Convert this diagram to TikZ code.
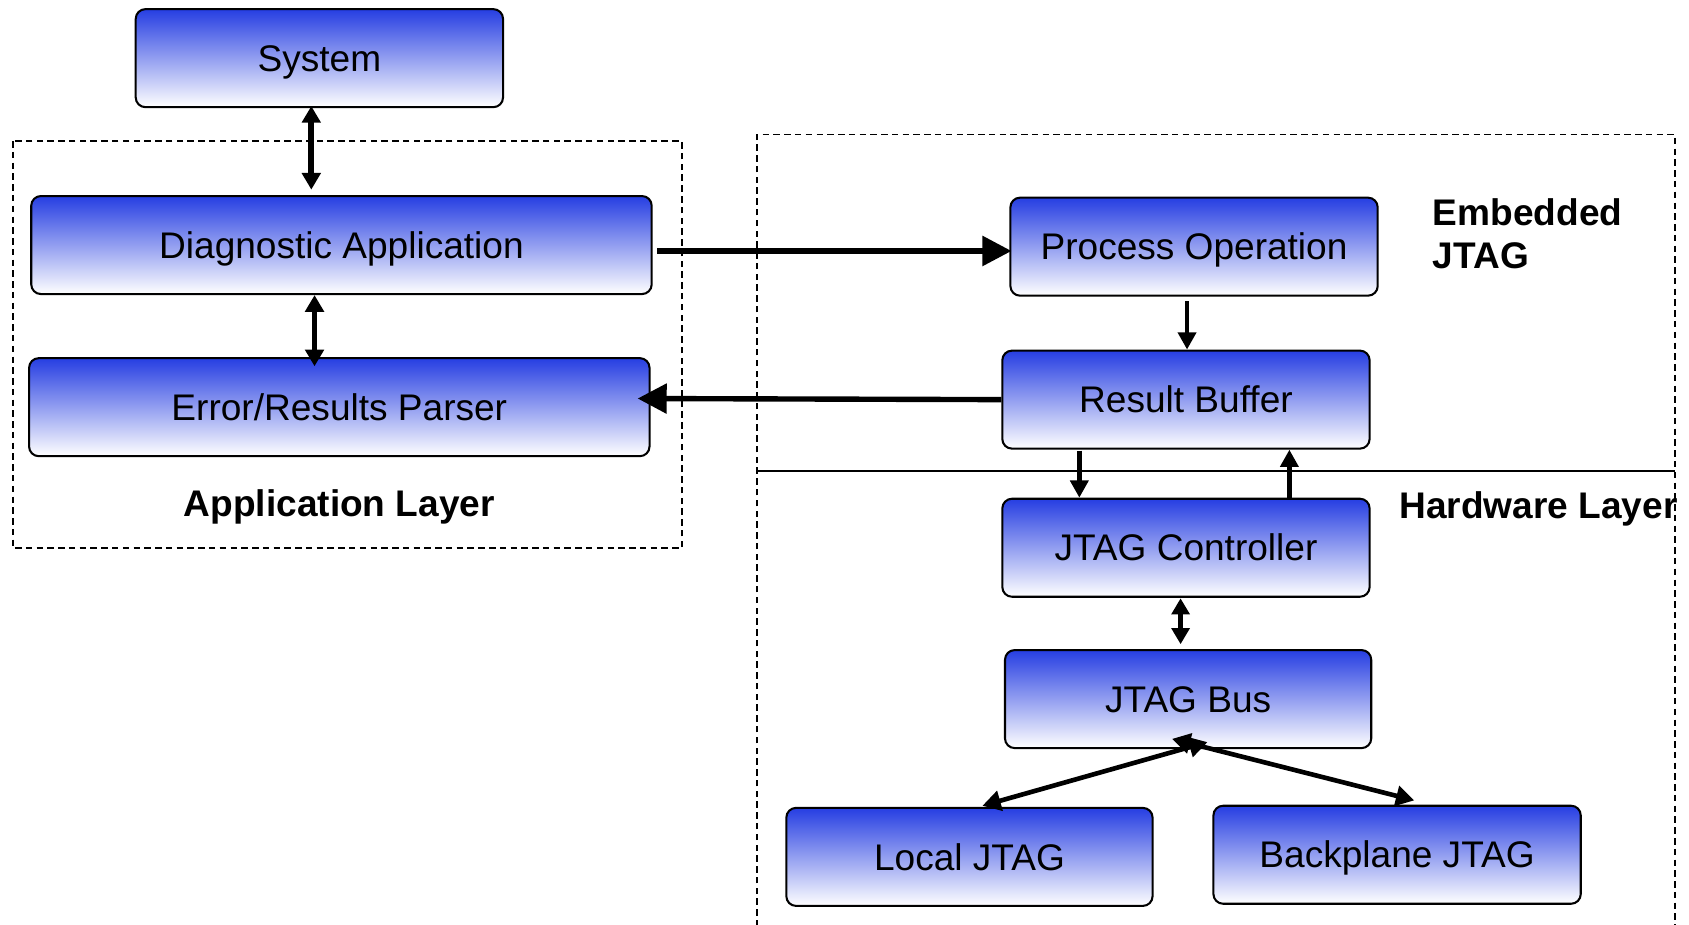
\documentclass[tikz,border=0pt]{standalone}
\usepackage{fontspec}
\setmainfont{Liberation Sans}
\usetikzlibrary{arrows.meta,calc}
\definecolor{topblue}{RGB}{38,62,226}
\begin{document}
\begin{tikzpicture}[x=1pt,y=-1pt,
  box/.style={draw=black, line width=1.9pt, rounded corners=9pt,
    top color=topblue, bottom color=white,
    minimum width=341pt, minimum height=91pt, inner sep=0pt,
    font=\fontsize{34.4}{40}\selectfont, text height=24.6pt, text depth=0pt},
  widebox/.style={box, minimum width=576pt},
  lbl/.style={font=\fontsize{34.4}{40}\selectfont\bfseries, inner sep=0pt},
  dashbox/.style={line width=1.5pt, dash pattern=on 6pt off 4pt},
  thinarr/.style={line width=4.3pt, -{Triangle[length=16pt,width=16.5pt]}},
  thindbl/.style={line width=5.5pt, {Triangle[length=15.5pt,width=17pt]}-{Triangle[length=15.5pt,width=17pt]}},
  smalldbl/.style={line width=4.3pt, {Triangle[length=15pt,width=16.5pt]}-{Triangle[length=15pt,width=16.5pt]}},
  bigarr/.style={line width=5pt, -{Triangle[length=27pt,width=27pt]}},
  diagdbl/.style={line width=4.3pt, {Triangle[length=17pt,width=18.5pt]}-{Triangle[length=17pt,width=18.5pt]}}
]
\useasboundingbox (0,0) rectangle (1568,858);

% layer frames
\draw[dashbox] (12,131) rectangle (633,509);
\draw[dashbox] (703,870) -- (703,125) -- (1555,125) -- (1555,870);
\draw[line width=1.6pt] (703,437) -- (1555,437);

% boxes
\node[box]     (sys)  at (296.5,54)  {System};
\node[widebox] (diag) at (317,227.5) {Diagnostic Application};
\node[widebox] (err)  at (315,378)   {Error/Results Parser};
\node[box]     (proc) at (1108.5,229) {Process Operation};
\node[box]     (rb)   at (1101,371)  {Result Buffer};
\node[box]     (jc)   at (1101,508.5) {JTAG Controller};
\node[box, minimum width=340pt] (bus) at (1103,649) {JTAG Bus};
\node[box, minimum width=340pt] (loc) at (900,795.5) {Local JTAG};
\node[box]     (bp)   at (1297,793.5) {Backplane JTAG};

% labels
\node[lbl] (applbl) at (315,471) {Application Layer};
\node[lbl, anchor=base west] (emb1) at (1330,209) {Embedded};
\node[lbl, anchor=base west] (emb2) at (1330,249) {JTAG};
\node[lbl, anchor=base west] (hwl)  at (1299,481) {Hardware Layer};

% connectors
\draw[thindbl, shorten <=-2pt, shorten >=5pt] (289,0 |- sys.south) -- (289,0 |- diag.north);
\draw[thindbl, shorten >=-8.5pt] (292,0 |- diag.south) -- (292,0 |- err.north);
\draw[bigarr, shorten <=4pt, shorten >=-2pt] (diag.east |- 0,233) -- (proc.west |- 0,233);
\draw[bigarr, shorten >=-12pt] (rb.west) -- (err.east |- 0,370);
\draw[thinarr, shorten <=4pt] (1102,0 |- proc.south) -- (1102,0 |- rb.north);
\draw[thinarr, shorten <=1pt] (1002,0 |- rb.south) -- (1002,0 |- jc.north);
\draw[thinarr] (1197,0 |- jc.north) -- (1197,0 |- rb.south);
\draw[smalldbl, shorten <=0.5pt, shorten >=4.5pt] (1096,0 |- jc.south) -- (1096,0 |- bus.north);
\draw[diagdbl] ($(loc.north)+(12,-1)$) -- ($(bus.south)+(18,-6.5)$);
\draw[diagdbl] ($(bp.north)+(16,-4)$) -- ($(bus.south)+(-15,-9.5)$);
\end{tikzpicture}
\end{document}
